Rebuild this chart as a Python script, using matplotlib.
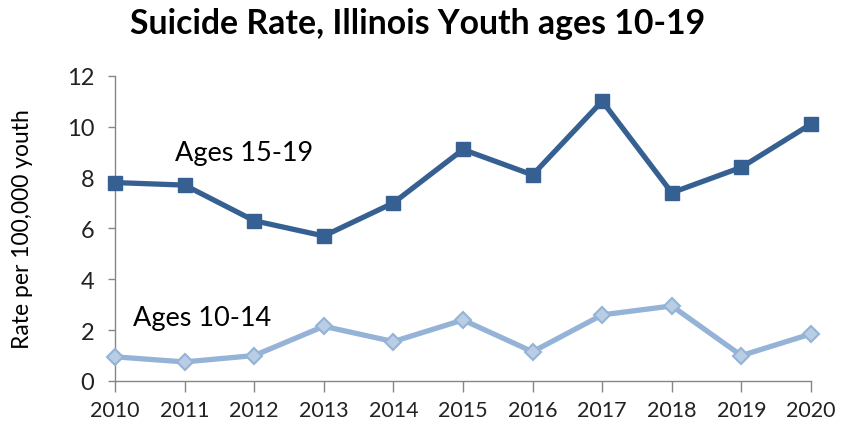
import matplotlib
matplotlib.use("Agg")
import matplotlib.pyplot as plt

years = [2010, 2011, 2012, 2013, 2014, 2015, 2016, 2017, 2018, 2019, 2020]
ages_15_19 = [7.8, 7.7, 6.3, 5.7, 7.0, 9.1, 8.1, 11.0, 7.4, 8.4, 10.1]
ages_10_14 = [0.95, 0.75, 1.0, 2.15, 1.55, 2.4, 1.15, 2.6, 2.95, 1.0, 1.85]
yticks = [0, 2, 4, 6, 8, 10, 12]

plt.rcParams['font.family'] = ['Lato', 'DejaVu Sans']

fig = plt.figure(figsize=(8.56, 4.27), dpi=100)
ax = fig.add_axes([115/856, 45/427, (811-115)/856, (382-76.7)/427])

ax.plot(years, ages_15_19, color='#376092', lw=3.8, marker='s', ms=9.5,
        markerfacecolor='#376092', markeredgecolor='#376092', zorder=3, clip_on=False)
ax.plot(years, ages_10_14, color='#95B3D7', lw=3.8, marker='D', ms=8.5,
        markerfacecolor='#B9CDE5', markeredgecolor='#95B3D7', markeredgewidth=1.5,
        zorder=3, clip_on=False)

ax.set_xlim(2010, 2020)
ax.set_ylim(0, 12)
ax.set_xticks(years)
ax.set_yticks(yticks)
ax.tick_params(axis='both', colors='#868686', labelcolor='#222222')
ax.tick_params(axis='x', length=8, width=1, pad=6, labelsize=15.5)
ax.tick_params(axis='y', length=5, width=1, pad=10, labelsize=17)
for s in ['top', 'right']:
    ax.spines[s].set_visible(False)
for s in ['left', 'bottom']:
    ax.spines[s].set_color('#868686')
    ax.spines[s].set_linewidth(1)

ax.set_ylabel('Rate per 100,000 youth', fontsize=16.5, color='#000000')
ax.yaxis.set_label_coords(-(115-33)/696, 0.5)

ax.text(2010.86, 9.0, 'Ages 15-19', fontsize=19.5, color='#000000', va='center', ha='left')
ax.text(2010.26, 2.5, 'Ages 10-14', fontsize=19.5, color='#000000', va='center', ha='left')

fig.text(418/856, 1 - 24/427, 'Suicide Rate, Illinois Youth ages 10-19', fontsize=24.3,
         fontweight='bold', ha='center', va='center', color='#000000')

fig.savefig('out.png', dpi=100)
